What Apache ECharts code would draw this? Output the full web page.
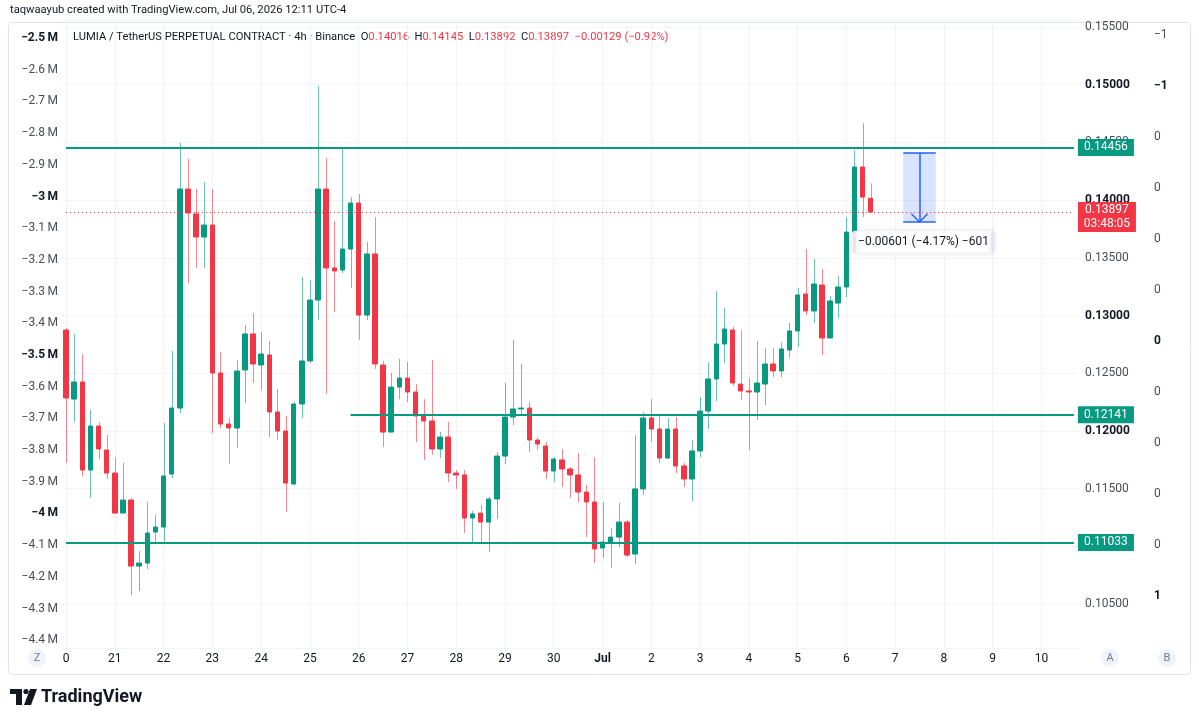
<!DOCTYPE html>
<html>
<head>
<meta charset="utf-8">
<script src="https://cdn.jsdelivr.net/npm/echarts@6/dist/echarts.min.js"></script>
<style>
  html, body { margin: 0; padding: 0; background: #fff; }
  #chart { width: 1199px; height: 724px; }
</style>
</head>
<body>
<div id="chart"></div>
<script>
// time scale labels, one per day (6 x 4h candles per day)
const dayLabels = ['0', '21', '22', '23', '24', '25', '26', '27', '28', '29', '30', 'Jul',
  '2', '3', '4', '5', '6', '7', '8', '9', '10'];

// LUMIA/USDT 4h candles
const opens = [0.12874, 0.12276, 0.12424, 0.11661, 0.12042, 0.11834, 0.11635, 0.11288, 0.11401, 0.10829,
  0.10855, 0.11124, 0.11167, 0.11626, 0.12198, 0.14096, 0.13880, 0.13680, 0.13784, 0.12502,
  0.12060, 0.12025, 0.12528, 0.12840, 0.12571, 0.12658, 0.12164, 0.11999, 0.11540, 0.12233,
  0.12606, 0.13134, 0.14096, 0.13412, 0.13394, 0.13576, 0.13975, 0.13004, 0.13533, 0.12571,
  0.11990, 0.12380, 0.12458, 0.12337, 0.12129, 0.12086, 0.11843, 0.11947, 0.11635, 0.11618,
  0.11245, 0.11288, 0.11210, 0.11410, 0.11782, 0.12120, 0.12190, 0.12198, 0.11921, 0.11869,
  0.11652, 0.11748, 0.11670, 0.11618, 0.11470, 0.11384, 0.10985, 0.11037, 0.11080, 0.11210,
  0.10933, 0.11497, 0.12112, 0.12016, 0.11765, 0.12016, 0.11696, 0.11583, 0.11826, 0.12172,
  0.12450, 0.12753, 0.12874, 0.12406, 0.12346, 0.12337, 0.12406, 0.12580, 0.12519, 0.12701,
  0.12866, 0.13186, 0.13039, 0.13264, 0.12805, 0.13108, 0.13247, 0.13723, 0.14287, 0.14016];
const highs = [0.12892, 0.12840, 0.12666, 0.12181, 0.12077, 0.11964, 0.11774, 0.11722, 0.11418, 0.10959,
  0.11384, 0.11271, 0.12068, 0.12692, 0.14495, 0.14356, 0.14096, 0.14157, 0.14096, 0.12684,
  0.12112, 0.12614, 0.12918, 0.13022, 0.12857, 0.12779, 0.12363, 0.12129, 0.12250, 0.13334,
  0.13308, 0.14989, 0.14365, 0.13819, 0.14443, 0.14027, 0.14053, 0.13637, 0.13853, 0.12606,
  0.12502, 0.12623, 0.12597, 0.12406, 0.12276, 0.12614, 0.11990, 0.12077, 0.11661, 0.11661,
  0.11306, 0.11358, 0.11427, 0.11817, 0.12415, 0.12788, 0.12580, 0.12250, 0.11947, 0.11904,
  0.11774, 0.11843, 0.11687, 0.11808, 0.11531, 0.11774, 0.11384, 0.11158, 0.11375, 0.11228,
  0.11964, 0.12164, 0.12276, 0.12138, 0.12112, 0.12120, 0.11722, 0.11921, 0.12294, 0.12597,
  0.13212, 0.13065, 0.12900, 0.12874, 0.12458, 0.12779, 0.12718, 0.12718, 0.12770, 0.12935,
  0.13238, 0.13576, 0.13490, 0.13403, 0.13169, 0.13342, 0.13853, 0.14434, 0.14668, 0.14145];
const lows = [0.11722, 0.12077, 0.11609, 0.11418, 0.11756, 0.11583, 0.11285, 0.11285, 0.10578, 0.10612,
  0.10803, 0.11037, 0.11037, 0.11592, 0.12155, 0.13282, 0.13412, 0.13412, 0.11982, 0.12025,
  0.11713, 0.11852, 0.12242, 0.12415, 0.12354, 0.11947, 0.11921, 0.11297, 0.11531, 0.12112,
  0.12588, 0.12961, 0.12320, 0.13030, 0.13368, 0.13238, 0.12788, 0.12961, 0.12536, 0.11860,
  0.11985, 0.12276, 0.12250, 0.11904, 0.11748, 0.11791, 0.11765, 0.11557, 0.11497, 0.11115,
  0.11028, 0.11037, 0.10950, 0.11236, 0.11713, 0.12051, 0.12129, 0.11817, 0.11834, 0.11583,
  0.11557, 0.11514, 0.11418, 0.11384, 0.11080, 0.10855, 0.10898, 0.10812, 0.10994, 0.10907,
  0.10846, 0.11444, 0.11904, 0.11722, 0.11756, 0.11635, 0.11514, 0.11392, 0.11774, 0.12016,
  0.12259, 0.12588, 0.12389, 0.12268, 0.11834, 0.12094, 0.12224, 0.12467, 0.12467, 0.12632,
  0.12727, 0.13004, 0.12935, 0.12658, 0.12805, 0.12978, 0.13160, 0.13663, 0.13853, 0.13892];
const closes = [0.12285, 0.12424, 0.11661, 0.12042, 0.11843, 0.11635, 0.11288, 0.11401, 0.10829, 0.10855,
  0.11115, 0.11167, 0.11609, 0.12198, 0.14096, 0.13888, 0.13680, 0.13784, 0.12502, 0.12060,
  0.12025, 0.12519, 0.12840, 0.12580, 0.12666, 0.12164, 0.11999, 0.11548, 0.12233, 0.12606,
  0.13134, 0.14096, 0.13412, 0.13386, 0.13576, 0.13975, 0.13004, 0.13533, 0.12580, 0.11990,
  0.12380, 0.12458, 0.12337, 0.12129, 0.12086, 0.11843, 0.11947, 0.11635, 0.11618, 0.11245,
  0.11280, 0.11210, 0.11410, 0.11782, 0.12120, 0.12190, 0.12198, 0.11921, 0.11886, 0.11652,
  0.11756, 0.11670, 0.11618, 0.11470, 0.11384, 0.10977, 0.11037, 0.11080, 0.11210, 0.10924,
  0.11497, 0.12112, 0.12016, 0.11765, 0.12016, 0.11696, 0.11583, 0.11826, 0.12172, 0.12450,
  0.12753, 0.12883, 0.12415, 0.12346, 0.12337, 0.12415, 0.12580, 0.12519, 0.12710, 0.12866,
  0.13178, 0.13039, 0.13273, 0.12805, 0.13126, 0.13247, 0.13723, 0.14287, 0.14026, 0.13897];

// horizontal lines drawn on the chart
const fullLevels = [0.14456, 0.11033];
const rayLevel = 0.12141;
const rayStart = 35;
// price range measurement
const measureFrom = 0.14412;
const measureTo = 0.13811;
const measureSpan = [103, 107];
const countdown = '03:48:05';

const FONT = 'Roboto, sans-serif';
const HEAD = '11.2px ' + FONT;
const UP = '#089981';
const DOWN = '#F23645';
const BLUE = '#2962ff';
const SLOTS = 125;
const MINUS = '\u2212';

const slots = [];
for (let i = 0; i < SLOTS; i++) slots.push(String(i));

const bodies = opens.map((o, i) => [o, closes[i], Math.min(o, closes[i]), Math.max(o, closes[i])]);
const wicks = opens.map((o, i) => [i, lows[i], highs[i], closes[i] >= o ? 1 : 0]);

const fmt = v => v.toFixed(5);
const signed = (v, d) => (v < 0 ? MINUS : '+') + Math.abs(v).toFixed(d);

const last = opens.length - 1;
const lastClose = closes[last];
const change = lastClose - closes[last - 1];
const changePct = change / closes[last - 1] * 100;
const mDiff = measureTo - measureFrom;
const mPct = mDiff / measureFrom * 100;
const mTicks = Math.round(mDiff / 0.00001);
const mMid = (measureSpan[0] + measureSpan[1]) / 2;

const chart = echarts.init(document.getElementById('chart'));

const levelLabel = (v, bg) => ({
  coord: [SLOTS - 1, v],
  symbol: 'rect',
  symbolSize: [56, 17],
  symbolOffset: [32, 0],
  itemStyle: { color: bg },
  label: { show: true, position: 'inside', formatter: fmt(v), color: '#fff', fontSize: 12, fontFamily: FONT }
});
const seg = (a, b, style) => [{ coord: a, lineStyle: style }, { coord: b, lineStyle: style }];
const levelStyle = { color: UP, width: 2, type: 'solid' };
const blueStyle = { color: BLUE, width: 1.5, type: 'solid' };

const option = {
  animation: false,
  textStyle: { fontFamily: FONT },
  grid: { left: 62, right: 121, top: 20, bottom: 76, containLabel: false },
  xAxis: {
    type: 'category',
    data: slots,
    boundaryGap: true,
    axisLine: { show: false },
    axisTick: { show: false },
    axisLabel: {
      interval: i => i % 6 === 0,
      margin: 5,
      fontSize: 12,
      color: '#131722',
      formatter: v => {
        const s = dayLabels[Number(v) / 6];
        return s === 'Jul' ? '{b|Jul}' : s;
      },
      rich: { b: { fontWeight: 'bold', fontSize: 12, color: '#131722', fontFamily: FONT } }
    },
    splitLine: {
      show: true,
      interval: i => i % 6 === 0,
      alignWithLabel: true,
      lineStyle: { color: '#f0f3fa', width: 1 }
    }
  },
  yAxis: [
    {
      type: 'value',
      position: 'right',
      min: 0.101187,
      max: 0.155607,
      splitNumber: 11,
      axisLine: { show: false },
      axisTick: { show: false },
      splitLine: { lineStyle: { color: '#f0f3fa' } },
      axisLabel: {
        margin: 7,
        fontSize: 12,
        color: '#4a4d57',
        formatter: v => {
          const k = Math.round(v / 0.005);
          if (Math.abs(v - k * 0.005) > 1e-7) return '';
          const s = (k * 0.005).toFixed(5);
          return k % 2 === 0 ? '{b|' + s + '}' : s;
        },
        rich: { b: { fontWeight: 'bold', fontSize: 12, color: '#131722', fontFamily: FONT } }
      }
    },
    {
      type: 'value',
      position: 'left',
      min: -4424300,
      max: -2443200,
      splitNumber: 20,
      axisLine: { show: false },
      axisTick: { show: false },
      splitLine: { show: false },
      axisLabel: {
        margin: 4,
        fontSize: 12,
        color: '#4a4d57',
        formatter: v => {
          const k = Math.round(v / 1e5);
          if (Math.abs(v - k * 1e5) > 1) return '';
          const m = Math.abs(k) / 10;
          const s = (k < 0 ? MINUS : '') + m + '\u2009M';
          return k % 5 === 0 ? '{b|' + s + '}' : s;
        },
        rich: { b: { fontWeight: 'bold', fontSize: 12, color: '#131722', fontFamily: FONT } }
      }
    },
    {
      type: 'value',
      position: 'right',
      offset: 72,
      inverse: true,
      min: -1.2588,
      max: 1.2039,
      splitNumber: 12,
      axisLine: { show: false },
      axisTick: { show: false },
      splitLine: { show: false },
      axisLabel: {
        margin: 4,
        fontSize: 12,
        color: '#4a4d57',
        formatter: v => {
          const k = Math.round(v * 5);
          if (Math.abs(v - k / 5) > 1e-6 || k > 5) return '';
          const t = Math.trunc(k / 5) || 0;
          const s = t < 0 ? MINUS + (-t) : String(t);
          return k % 5 === 0 ? '{b|' + s + '}' : s;
        },
        rich: { b: { fontWeight: 'bold', fontSize: 12, color: '#131722', fontFamily: FONT } }
      }
    }
  ],
  series: [
    {
      name: 'drawings',
      type: 'line',
      xAxisIndex: 0,
      yAxisIndex: 0,
      data: [],
      silent: true,
      z: 4,
      markArea: {
        silent: true,
        itemStyle: { color: 'rgba(41,98,255,0.18)' },
        data: [[{ coord: [measureSpan[0], measureFrom] }, { coord: [measureSpan[1], measureTo] }]]
      },
      markLine: {
        silent: true,
        symbol: ['none', 'none'],
        label: { show: false },
        data: [
          seg([0, fullLevels[0]], [SLOTS - 1, fullLevels[0]], levelStyle),
          seg([0, fullLevels[1]], [SLOTS - 1, fullLevels[1]], levelStyle),
          seg([rayStart, rayLevel], [SLOTS - 1, rayLevel], levelStyle),
          seg([0, lastClose], [SLOTS - 1, lastClose], { color: DOWN, width: 1, type: [1, 3] }),
          seg([measureSpan[0], measureFrom], [measureSpan[1], measureFrom], blueStyle),
          seg([measureSpan[0], measureTo], [measureSpan[1], measureTo], blueStyle),
          seg([mMid, measureFrom], [mMid, measureTo], blueStyle),
          seg([mMid - 1, measureTo + 0.0007], [mMid, measureTo], blueStyle),
          seg([mMid + 1, measureTo + 0.0007], [mMid, measureTo], blueStyle)
        ]
      },
      markPoint: {
        silent: true,
        data: [
          levelLabel(fullLevels[0], UP),
          levelLabel(rayLevel, UP),
          levelLabel(fullLevels[1], UP),
          {
            coord: [SLOTS - 1, lastClose],
            symbol: 'rect',
            symbolSize: [58, 30],
            symbolOffset: [33, 5],
            itemStyle: { color: DOWN },
            label: {
              show: true, position: 'inside', color: '#fff', fontSize: 12, lineHeight: 14, fontFamily: FONT,
              formatter: fmt(lastClose) + '\n' + countdown
            }
          },
          {
            coord: [mMid, measureTo],
            symbol: 'rect',
            symbolSize: [138, 22],
            symbolOffset: [4, 20],
            itemStyle: { color: '#fff', borderColor: '#e0e3eb', borderWidth: 1, shadowBlur: 6, shadowColor: 'rgba(0,0,0,0.12)' },
            label: {
              show: true, position: 'inside', color: '#131722', fontSize: 12, fontFamily: FONT,
              formatter: signed(mDiff, 5) + ' (' + signed(mPct, 2) + '%) ' + signed(mTicks, 0)
            }
          }
        ]
      }
    },
    {
      name: 'wicks',
      type: 'custom',
      xAxisIndex: 0,
      yAxisIndex: 0,
      silent: true,
      z: 2,
      data: wicks,
      renderItem: (params, api) => {
        const i = api.value(0);
        const lo = api.coord([i, api.value(1)]);
        const hi = api.coord([i, api.value(2)]);
        const x = Math.round(lo[0]) + 0.5;
        return {
          type: 'line',
          shape: { x1: x, y1: lo[1], x2: x, y2: hi[1] },
          style: { stroke: api.value(3) ? 'rgba(8,153,129,0.6)' : 'rgba(242,54,69,0.6)', lineWidth: 1 }
        };
      }
    },
    {
      name: 'LUMIA',
      type: 'candlestick',
      xAxisIndex: 0,
      yAxisIndex: 0,
      barWidth: 5,
      z: 3,
      data: bodies,
      itemStyle: { color: UP, color0: DOWN, borderColor: UP, borderColor0: DOWN, borderWidth: 1 }
    }
  ],
  graphic: [
    {
      type: 'rect', silent: true, z: -10,
      shape: { x: 8.5, y: 22.5, width: 1182, height: 652, r: 4 },
      style: { fill: 'none', stroke: '#e0e3eb', lineWidth: 1 }
    },
    {
      type: 'text', left: 10, top: 5,
      style: { text: 'taqwaayub created with TradingView.com, Jul 06, 2026 12:11 UTC-4', fill: '#131722', font: HEAD }
    },
    {
      type: 'text', left: 73, top: 32,
      style: {
        text: '{d|LUMIA / TetherUS PERPETUAL CONTRACT \u00b7 4h \u00b7 Binance}  ' +
          '{d|O}{r|' + fmt(opens[last]) + '}  {d|H}{r|' + fmt(highs[last]) + '}  {d|L}{r|' + fmt(lows[last]) +
          '}  {d|C}{r|' + fmt(lastClose) + '}  {r|' + signed(change, 5) + ' (' + signed(changePct, 2) + '%)}',
        font: HEAD,
        rich: {
          d: { fill: '#131722', font: HEAD },
          r: { fill: DOWN, font: HEAD }
        }
      }
    },
    { type: 'circle', shape: { cx: 37, cy: 658, r: 9 }, style: { fill: '#f0f3fa' } },
    { type: 'text', x: 37, y: 658, style: { text: 'Z', fill: '#787b86', font: '11px ' + FONT, align: 'center', verticalAlign: 'middle' } },
    { type: 'circle', shape: { cx: 1110, cy: 658, r: 9 }, style: { fill: '#f0f3fa' } },
    { type: 'text', x: 1110, y: 658, style: { text: 'A', fill: '#787b86', font: '11px ' + FONT, align: 'center', verticalAlign: 'middle' } },
    { type: 'circle', shape: { cx: 1167, cy: 658, r: 9 }, style: { fill: '#f0f3fa' } },
    { type: 'text', x: 1167, y: 658, style: { text: 'B', fill: '#787b86', font: '11px ' + FONT, align: 'center', verticalAlign: 'middle' } },
    // TradingView logo
    { type: 'rect', shape: { x: 10, y: 689, width: 12, height: 5 }, style: { fill: '#131722' } },
    { type: 'rect', shape: { x: 16, y: 689, width: 6, height: 16 }, style: { fill: '#131722' } },
    { type: 'circle', shape: { cx: 26, cy: 691.5, r: 2.6 }, style: { fill: '#131722' } },
    { type: 'polygon', shape: { points: [[30, 689], [37, 689], [31, 705], [24, 705]] }, style: { fill: '#131722' } },
    {
      type: 'text', x: 41, y: 697,
      style: { text: 'TradingView', fill: '#131722', font: 'bold 18px ' + FONT, verticalAlign: 'middle' }
    }
  ]
};

chart.setOption(option);
</script>
</body>
</html>
